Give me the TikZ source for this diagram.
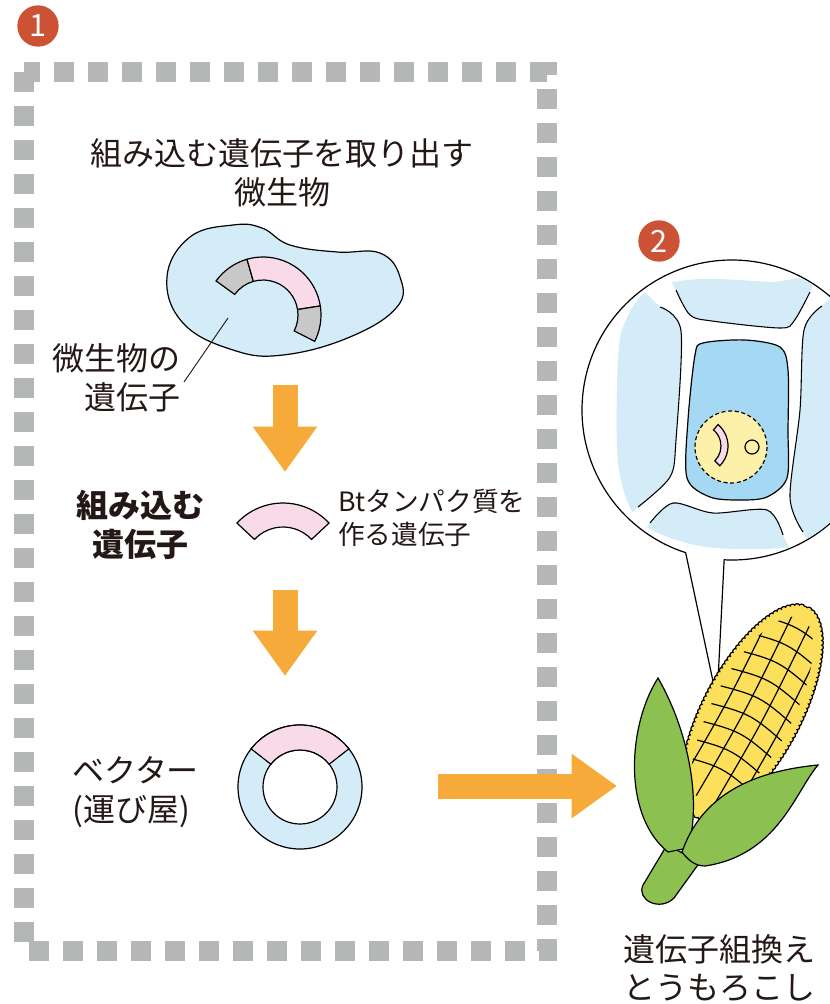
\documentclass[tikz,border=0pt]{standalone}
\usepackage{fontspec}
\setmainfont{Noto Sans CJK JP}
\usetikzlibrary{arrows.meta,calc,decorations.pathmorphing}
\definecolor{dotgray}{HTML}{B5B6B6}
\definecolor{badgered}{HTML}{CC5236}
\definecolor{arroworange}{HTML}{F5AA3A}
\definecolor{paleblue}{HTML}{D4EBF8}
\definecolor{cellblue}{HTML}{A5D8F3}
\definecolor{genepink}{HTML}{F9DAE9}
\definecolor{genegray}{HTML}{C8C8C8}
\definecolor{nucyellow}{HTML}{FDF0A8}
\definecolor{cornyellow}{HTML}{FCE05C}
\definecolor{leafgreen}{HTML}{8CC152}
\definecolor{inkblack}{HTML}{231815}
\tikzset{
  jlabel/.style={font=\fontsize{24}{29}\selectfont, align=center, inner sep=0pt, text=inkblack},
  jbold/.style={jlabel, font=\fontsize{24}{29}\selectfont\bfseries},
  jsmall/.style={jlabel, font=\fontsize{20}{25}\selectfont},
  outline/.style={draw=black, line width=0.9pt},
  wall/.style={draw=black, line width=0.8pt},
  leader/.style={draw=inkblack, line width=0.7pt},
  barr/.style={draw=arroworange, line width=18.75pt, -{Triangle[length=34pt,width=46pt]}},
  dotframe/.style={draw=dotgray, line width=15pt, dash pattern=on 15pt off 10.5pt},
  badge/.style={circle, fill=badgered, text=white, minimum size=31pt, inner sep=0pt, font=\fontsize{23}{23}\selectfont}
}
% ring piece: fill, centre, inner r, outer r, from, to
\newcommand{\genebit}[6]{%
  \draw[outline, fill=#1] ($(#2)+(#5:#4)$) arc[start angle=#5, end angle=#6, radius=#4]
    -- ($(#2)+(#6:#3)$) arc[start angle=#6, end angle=#5, radius=#3] -- cycle;}

\begin{document}
\begin{tikzpicture}[x=0.75pt,y=-0.75pt]
\useasboundingbox (0,0) rectangle (830,1004);
\clip (0,0) rectangle (830,1004);

\draw[dotframe] (24,72) rectangle (547,951);
\node[badge] (b1) at (38,26) {1};
\node[badge] (b2) at (659,241) {2};

\node[jlabel] (title) at (282,173) {組み込む遺伝子を取り出す\\微生物};

% microbe with its gene
\draw[outline, fill=paleblue] plot[smooth cycle, tension=0.7] coordinates {(167,277) (190,237) (233,225) (262,228) (290,245) (337,252) (380,253) (400,277) (397,307) (350,337) (283,355) (233,350) (183,323)};
\coordinate (mg) at (263,315);
\genebit{genegray}{mg}{35}{58}{-144}{-106}
\genebit{genepink}{mg}{35}{58}{-106}{-9}
\genebit{genegray}{mg}{35}{58}{-9}{27}
\node[jlabel, align=right, anchor=east] (mglabel) at (181,378) {微生物の\\遺伝子};
\coordinate (mgtip) at (228,318);
\draw[leader] ([shift={(3,4)}]mglabel.east) -- (mgtip);

\coordinate (a1top) at (285,385);
\coordinate (a1tip) at (285,472);
\draw[barr] (a1top) -- (a1tip);

% Bt gene
\node[jbold] (inslabel) at (140,525) {組み込む\\遺伝子};
\coordinate (bt) at (283,566);
\genebit{genepink}{bt}{39}{63}{-137}{-43}
\node[jsmall, align=left, anchor=west] (btlabel) at (338,518) {Btタンパク質を\\作る遺伝子};

\coordinate (a2top) at (285,590);
\coordinate (a2tip) at (285,676);
\draw[barr] (a2top) -- (a2tip);

% vector
\coordinate (vec) at (300,787);
\draw[outline, fill=paleblue, even odd rule] (vec) circle[radius=62] (vec) circle[radius=37];
\genebit{genepink}{vec}{37}{62}{-142}{-38}
\node[jlabel, align=left, anchor=west] (veclabel) at (72,792) {ベクター\\(運び屋)};

\coordinate (a3start) at (438,786);
\coordinate (a3tip) at (617,786);
\draw[barr] (a3start) -- (a3tip);

% magnified cells
\coordinate (lens) at (732,410);
\coordinate (lenstip) at (717,700);
\draw[outline, fill=white] (lenstip) -- ($(lens)+(93:150)$) arc[start angle=93, end angle=-252, radius=150] -- cycle;
\begin{scope}
\clip (lens) circle[radius=149];
\clip plot[smooth cycle] coordinates {(622,330) (648,290) (700,279) (770,282) (830,284) (850,400) (830,532) (780,548) (700,546) (640,522) (619,470) (617,390)};
\fill[paleblue] (660,262) -- plot[smooth] coordinates {(676,290) (690,315) (712,321) (780,328) (794,321) (810,292)} -- (826,262) -- (826,200) -- (660,200) -- cycle;
\fill[paleblue] (645,292) -- plot[smooth] coordinates {(660,307) (681,331) (676,440) (670,477) (638,507)} -- (622,522) -- (560,522) -- (560,292) -- cycle;
\fill[paleblue] (838,290) -- plot[smooth] coordinates {(822,306) (804,330) (800,410) (790,497) (803,532)} -- (815,556) -- (880,556) -- (880,290) -- cycle;
\fill[paleblue] (636,540) -- plot[smooth] coordinates {(650,523) (673,503) (713,513) (767,510) (783,535)} -- (795,560) -- (795,620) -- (636,620) -- cycle;
\draw[wall] plot[smooth] coordinates {(676,290) (690,315) (712,321) (780,328) (794,321) (810,292)};
\draw[wall] plot[smooth] coordinates {(660,307) (681,331) (676,440) (670,477) (638,507)};
\draw[wall] plot[smooth] coordinates {(822,306) (804,330) (800,410) (790,497) (803,532)};
\draw[wall] plot[smooth] coordinates {(650,523) (673,503) (713,513) (767,510) (783,535)};
\end{scope}
\draw[outline, fill=cellblue] plot[smooth cycle] coordinates {(703,343) (745,340) (780,347) (788,370) (788,430) (787,478) (767,497) (740,500) (710,497) (687,478) (688,420) (695,355)};
\coordinate (nuc) at (731,447);
\draw[outline, dash pattern=on 3pt off 2pt, fill=nucyellow] (nuc) circle[radius=36];
\coordinate (nucgene) at (700,446);
\genebit{genepink}{nucgene}{21}{28}{-50}{45}
\draw[outline] (752,447) circle[radius=7];

% corn
\draw[outline, fill=leafgreen] (667,845) -- (643,885) .. controls (636,900) and (660,912) .. (674,898) -- (700,862) -- cycle;
\begin{scope}[shift={(752,712)}, rotate=62]
\draw[outline, fill=cornyellow, decorate, decoration={bumps, segment length=7pt, amplitude=1.2pt}] (0,0) ellipse[x radius=118, y radius=48];
\clip (0,0) ellipse[x radius=106, y radius=40];
\foreach \v in {-30,-10,10,30}
  \draw[outline] (-100,\v) .. controls (0,\v+4) .. (110,\v);
\foreach \u in {-70,-50,...,90}
  \draw[outline] (\u-4,-50) .. controls (\u+8,0) .. (\u-4,50);
\end{scope}
\draw[outline, fill=leafgreen] (668,852) .. controls (622,815) and (628,725) .. (658,678) .. controls (688,730) and (702,800) .. (688,848) -- cycle;
\draw[outline, fill=leafgreen] (682,852) .. controls (700,800) and (745,772) .. (818,765) .. controls (795,792) and (778,855) .. (705,866) .. controls (695,866) and (688,860) .. (682,852) -- cycle;
\node[jlabel, align=left, anchor=west] (cornlabel) at (623,968) {遺伝子組換え\\とうもろこし};
\end{tikzpicture}
\end{document}
